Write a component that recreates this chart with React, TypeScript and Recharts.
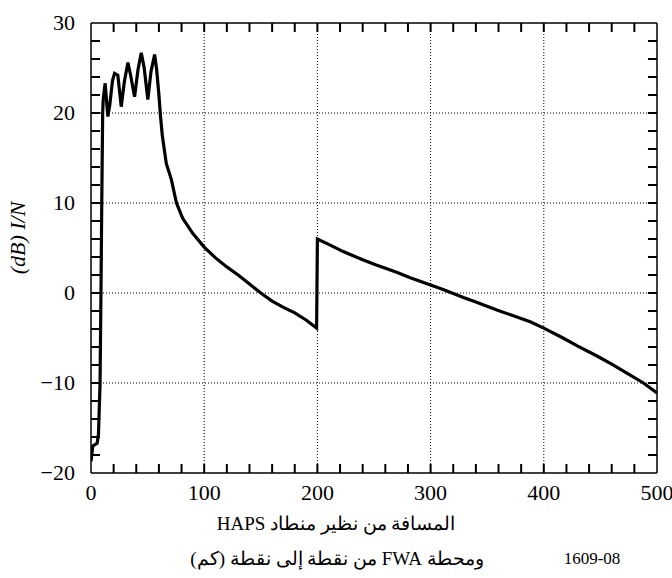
import { LineChart, Line, XAxis, YAxis, ReferenceLine } from 'recharts';

// distance (km) and I/N (dB)
const distKm = [
  0, 1.6, 5.4, 6.6, 8, 8.8, 9.5, 10.3, 10.8, 12.5, 14.9, 16.5, 19, 20.8, 23.7, 26.7,
  29.5, 32.6, 35, 38.5, 41.5, 44.4, 47, 50.2, 53, 56.2, 58, 60, 61.5, 63, 66.5, 71,
  75.5, 81, 90, 100, 110, 120, 130, 140, 150, 160, 170, 180, 190, 199.3,
  200, 210, 222.8, 240, 252, 270, 282, 300, 311, 329, 340, 358.5, 370, 388,
  400, 417, 430, 447, 460, 476, 488, 500,
];
const inDb = [
  -18.7, -17, -16.7, -15.7, -10, 0, 10, 20, 21.5, 23.3, 19.6, 20.8, 23.6, 24.4, 24.2, 20.7,
  23.5, 25.6, 24.2, 21.8, 24.8, 26.7, 25, 21.5, 24.6, 26.5, 24.8, 22, 19.5, 17.5, 14.4, 12.6,
  10, 8.3, 6.6, 5.1, 3.9, 2.9, 2.0, 1.0, 0.0, -0.9, -1.6, -2.2, -3.0, -3.9,
  6.0, 5.4, 4.6, 3.7, 3.1, 2.3, 1.7, 0.9, 0.4, -0.5, -1.0, -1.9, -2.4, -3.2,
  -3.9, -5.0, -5.9, -7.0, -7.9, -9.1, -10.0, -11.1,
];

const xTicks = [0, 100, 200, 300, 400, 500];
const yTicks = [-20, -10, 0, 10, 20, 30];
const xMinor = [20, 40, 60, 80, 100, 120, 140, 160, 180, 200, 220, 240, 260, 280, 300, 320, 340, 360, 380, 400, 420, 440, 460, 480];
const yMinor = [-18, -16, -14, -12, -10, -8, -6, -4, -2, 0, 2, 4, 6, 8, 10, 12, 14, 16, 18, 20, 22, 24, 26, 28];
const xGrid = [100, 200, 300, 400];
const yGrid = [-10, 0, 10, 20];

const yTitle = '(dB) I/N';
const xTitle1 = 'المسافة من نظير منطاد HAPS';
const xTitle2 = 'ومحطة FWA من نقطة إلى نقطة (كم)';
const figNo = '1609-08';

const data = distKm.map((d, i) => ({ d, v: inDb[i] }));

const FONT = "'Liberation Serif', 'DejaVu Serif', serif";
// inward tick length, in axis units
const TICK_DB = 1.0;
const TICK_KM = 8;
const X0 = 0, X1 = 500, Y0 = -20, Y1 = 30;

const fmt = (v: number) => String(v).replace('-', '\u2212');

function BottomTick(props: any) {
  const { x, y, payload } = props;
  return (
    <text x={x} y={y + 27} textAnchor="middle" fontSize={22} fontFamily={FONT} fill="#000">
      {fmt(payload.value)}
    </text>
  );
}

function LeftTick(props: any) {
  const { x, y, payload } = props;
  return (
    <text x={x - 16} y={y + 7} textAnchor="end" fontSize={22} fontFamily={FONT} fill="#000">
      {fmt(payload.value)}
    </text>
  );
}

export default function App() {
  return (
    <div style={{ position: 'absolute', left: 0, top: 0, width: 672, height: 578, background: '#fff' }}>
      <LineChart width={672} height={578} data={data} margin={{ top: 23, right: 15, bottom: 0, left: 0 }}>
        <XAxis
          xAxisId="b"
          dataKey="d"
          type="number"
          domain={[X0, X1]}
          ticks={xTicks}
          interval={0}
          height={105}
          tickSize={0}
          tickMargin={0}
          tickLine={false}
          tick={<BottomTick />}
          axisLine={{ stroke: '#000', strokeWidth: 1.5 }}
          allowDataOverflow
        />
        <YAxis
          yAxisId="l"
          type="number"
          domain={[Y0, Y1]}
          ticks={yTicks}
          interval={0}
          width={91}
          tickSize={0}
          tickMargin={0}
          tickLine={false}
          tick={<LeftTick />}
          axisLine={{ stroke: '#000', strokeWidth: 1.5 }}
          allowDataOverflow
        />
        {xGrid.map((g) => (
          <ReferenceLine key={'gx' + g} x={g} xAxisId="b" yAxisId="l" stroke="#000" strokeWidth={1} strokeDasharray="1 2" />
        ))}
        {yGrid.map((g) => (
          <ReferenceLine key={'gy' + g} y={g} xAxisId="b" yAxisId="l" stroke="#000" strokeWidth={1} strokeDasharray="1 2" />
        ))}
        {/* top and right frame */}
        <ReferenceLine x={X1} xAxisId="b" yAxisId="l" stroke="#000" strokeWidth={1.5} ifOverflow="visible" />
        <ReferenceLine y={Y1} xAxisId="b" yAxisId="l" stroke="#000" strokeWidth={1.5} ifOverflow="visible" />
        {/* inward ticks on all four sides */}
        {xMinor.map((t) => (
          <ReferenceLine key={'tb' + t} xAxisId="b" yAxisId="l" stroke="#000" strokeWidth={2} ifOverflow="visible"
            segment={[{ x: t, y: Y0 }, { x: t, y: Y0 + TICK_DB }]} />
        ))}
        {xMinor.map((t) => (
          <ReferenceLine key={'tt' + t} xAxisId="b" yAxisId="l" stroke="#000" strokeWidth={2} ifOverflow="visible"
            segment={[{ x: t, y: Y1 }, { x: t, y: Y1 - TICK_DB }]} />
        ))}
        {yMinor.map((t) => (
          <ReferenceLine key={'tl' + t} xAxisId="b" yAxisId="l" stroke="#000" strokeWidth={2} ifOverflow="visible"
            segment={[{ x: X0, y: t }, { x: X0 + TICK_KM, y: t }]} />
        ))}
        {yMinor.map((t) => (
          <ReferenceLine key={'tr' + t} xAxisId="b" yAxisId="l" stroke="#000" strokeWidth={2} ifOverflow="visible"
            segment={[{ x: X1, y: t }, { x: X1 - TICK_KM, y: t }]} />
        ))}
        <Line
          xAxisId="b"
          yAxisId="l"
          dataKey="v"
          type="linear"
          stroke="#000"
          strokeWidth={3.2}
          dot={false}
          isAnimationActive={false}
        />
      </LineChart>
      <div
        style={{
          position: 'absolute',
          left: 18,
          top: 238,
          transform: 'translate(-50%, -50%) rotate(-90deg)',
          whiteSpace: 'nowrap',
          fontFamily: FONT,
          fontStyle: 'italic',
          fontSize: 22,
          lineHeight: 1,
        }}
      >
        {yTitle}
      </div>
      <div
        dir="rtl"
        style={{
          position: 'absolute',
          left: 336,
          top: 523,
          transform: 'translate(-50%, -50%)',
          whiteSpace: 'nowrap',
          fontFamily: FONT,
          fontSize: 19,
          lineHeight: 1,
        }}
      >
        {xTitle1}
      </div>
      <div
        dir="rtl"
        style={{
          position: 'absolute',
          left: 337,
          top: 558,
          transform: 'translate(-50%, -50%)',
          whiteSpace: 'nowrap',
          fontFamily: FONT,
          fontSize: 19,
          lineHeight: 1,
        }}
      >
        {xTitle2}
      </div>
      <div
        style={{
          position: 'absolute',
          left: 592,
          top: 558,
          transform: 'translate(-50%, -50%)',
          whiteSpace: 'nowrap',
          fontFamily: FONT,
          fontSize: 17,
          lineHeight: 1,
        }}
      >
        {figNo}
      </div>
    </div>
  );
}
